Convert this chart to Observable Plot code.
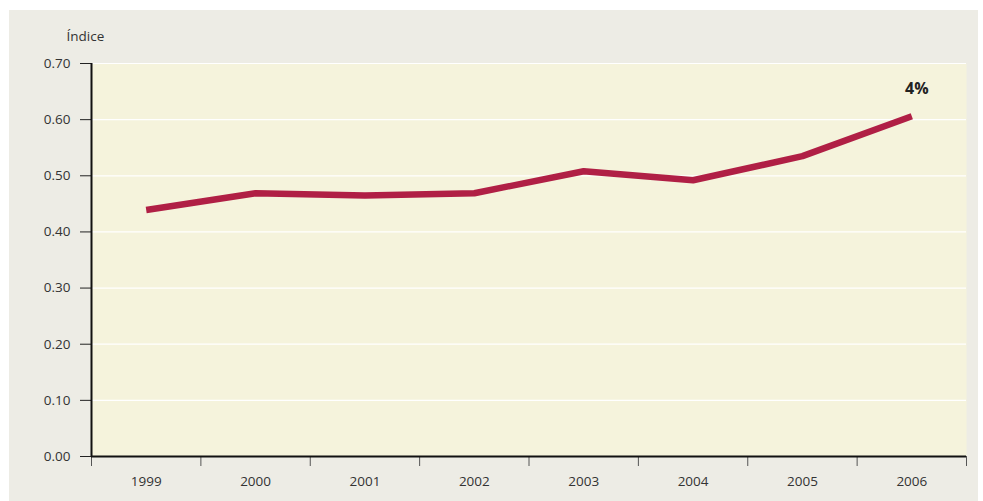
<!DOCTYPE html>
<html><head><meta charset="utf-8">
<script src="https://cdn.jsdelivr.net/npm/d3@7"></script>
<script src="https://cdn.jsdelivr.net/npm/@observablehq/plot@0.6"></script>
<style>
html,body{margin:0;padding:0;background:#fff;width:983px;height:501px;overflow:hidden}
#panel{position:absolute;left:9px;top:10px;width:969px;height:491px;background:#edece5}
</style></head><body>
<div id="panel"></div>
<script>
const years = [1999, 2000, 2001, 2002, 2003, 2004, 2005, 2006];
const values = [0.439, 0.469, 0.465, 0.469, 0.508, 0.492, 0.535, 0.606];
const yTicks = [0, 0.1, 0.2, 0.3, 0.4, 0.5, 0.6, 0.7];
const yLabel = "Índice";
const endLabel = "4%";

const data = years.map((y, i) => ({year: y, value: values[i]}));
const bounds = [...years.map(y => y - 0.5), years[years.length - 1] + 0.5];
const last = data[data.length - 1];

const chart = Plot.plot({
  width: 969,
  height: 491,
  marginLeft: 82,
  marginRight: 12,
  marginTop: 53,
  marginBottom: 45,
  style: {background: "transparent", fontFamily: "'Open Sans', sans-serif", fontSize: "13.5px", color: "#333"},
  x: {type: "linear", domain: [bounds[0], bounds[bounds.length - 1]]},
  y: {domain: [0, 0.7]},
  marks: [
    Plot.frame({fill: "#f5f3dc", stroke: null}),
    Plot.gridY(yTicks, {stroke: "#ffffff", strokeOpacity: 1, strokeWidth: 1.2}),
    Plot.axisY({ticks: yTicks, tickFormat: d3.format(".2f"), tickSize: 11, tickPadding: 10, stroke: "#222", label: null, fill: "#333"}),
    Plot.axisX({ticks: bounds, tickFormat: () => "", tickSize: 10, stroke: "#555", label: null}),
    Plot.axisX({ticks: years, tickFormat: d => String(d), tickSize: 0, tickPadding: 20, label: null, fill: "#333"}),
    Plot.ruleY([0], {stroke: "#111", strokeWidth: 2}),
    Plot.ruleX([bounds[0]], {stroke: "#111", strokeWidth: 2}),
    Plot.line(data, {x: "year", y: "value", stroke: "#b01f45", strokeWidth: 6.5, strokeLinecap: "butt", strokeLinejoin: "round"}),
    Plot.text([last], {x: "year", y: "value", text: () => endLabel, dx: 5, dy: -27, fontWeight: "bold", fontSize: 16, fill: "#222"}),
    Plot.text([yLabel], {frameAnchor: "top-left", text: d => d, dx: -25, dy: -32, textAnchor: "start", fill: "#333", fontSize: 13.5})
  ]
});
document.getElementById("panel").appendChild(chart);
</script>
</body></html>
